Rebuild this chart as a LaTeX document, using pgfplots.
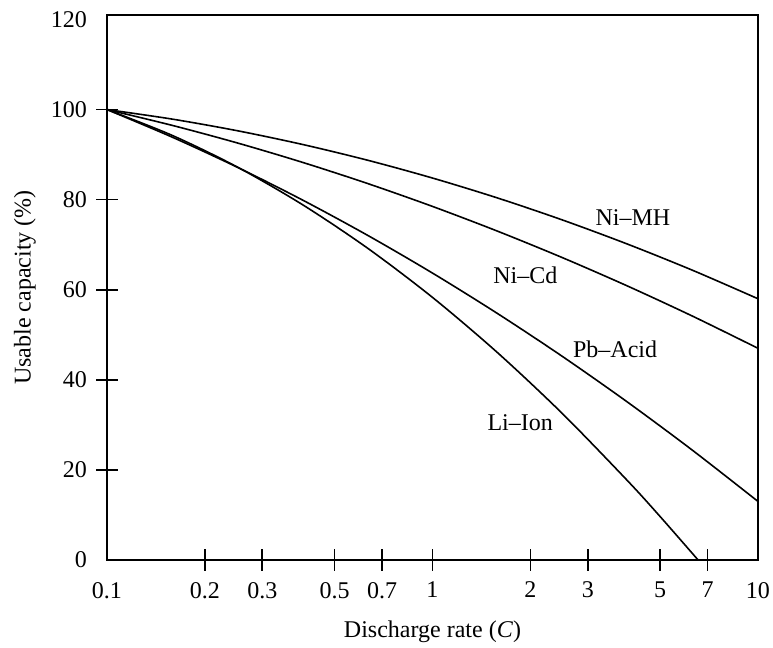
\documentclass[border=0pt]{standalone}
\usepackage{pgfplots}
\pgfplotsset{compat=1.18}
\usepackage{fontspec}
\setmainfont{Liberation Serif}
\begin{document}
\begin{tikzpicture}[font=\fontsize{12}{14}\selectfont]
\path[use as bounding box] (-53.5pt,-44pt) rectangle (333pt,280pt);
\begin{axis}[
  at={(0,0)}, anchor=south west,
  scale only axis, width=325.5pt, height=272.5pt,
  xmode=log, xmin=0.1, xmax=10, ymin=0, ymax=121,
  axis line style={line width=0.8pt},
  tick style={line width=0.8pt, black},
  major tick length=11pt, tick align=center,
  xtick pos=lower, ytick pos=left,
  xtick={0.2,0.3,0.5,0.7,1,2,3,5,7},
  xticklabels={0.2,0.3,0.5,0.7,1,2,3,5,7},
  extra x ticks={0.1,10}, extra x tick labels={0.1,10},
  ytick={20,40,60,80,100},
  yticklabels={20,40,60,80,100},
  extra y ticks={0,120}, extra y tick labels={0,120},
  extra tick style={major tick style={draw=none}},
  minor tick num=0,
  /pgf/number format/assume math mode=true,
  xticklabel style={yshift=-2pt},
  yticklabel style={xshift=-1pt},
  xlabel={Discharge rate (\textit{C})},
  ylabel={Usable capacity (\%)},
  xlabel style={at={(axis description cs:0.5,0)}, anchor=north, yshift=-27pt},
  ylabel style={at={(axis description cs:0,0.5)}, anchor=south, yshift=32pt},
  clip=false,
]
% Ni-MH
\addplot[black, line width=0.8pt, smooth] coordinates {(0.1,100) (0.1585,97.89) (0.2512,95.31) (0.3981,92.27) (0.631,88.77) (1,84.8) (1.585,80.37) (2.512,75.47) (3.981,70.11) (6.31,64.29) (10,58)};
% Ni-Cd
\addplot[black, line width=0.8pt, smooth] coordinates {(0.1,100) (0.1585,96.5) (0.2512,92.6) (0.3981,88.3) (0.631,83.6) (1,78.5) (1.585,73.0) (2.512,67.1) (3.981,60.8) (6.31,54.1) (10,47)};
% Pb-Acid
\addplot[black, line width=0.8pt, smooth] coordinates {(0.1,100) (0.1585,93.89) (0.2512,87.21) (0.3981,79.95) (0.631,72.11) (1,63.7) (1.585,54.71) (2.512,45.15) (3.981,35.01) (6.31,24.29) (10,13)};
% Li-Ion
\addplot[black, line width=0.8pt, smooth] coordinates {(0.1,100) (0.1585,94.28) (0.2512,87.26) (0.3981,78.92) (0.631,69.26) (1,58.3) (1.585,46.02) (2.512,32.44) (3.981,17.54) (5.012,9.59) (6.546,0)};
\node at (axis cs:4.13,76) {Ni--MH};
\node at (axis cs:1.93,63.3) {Ni--Cd};
\node at (axis cs:3.64,46.7) {Pb--Acid};
\node at (axis cs:1.86,30.4) {Li--Ion};
\end{axis}
\end{tikzpicture}
\end{document}
